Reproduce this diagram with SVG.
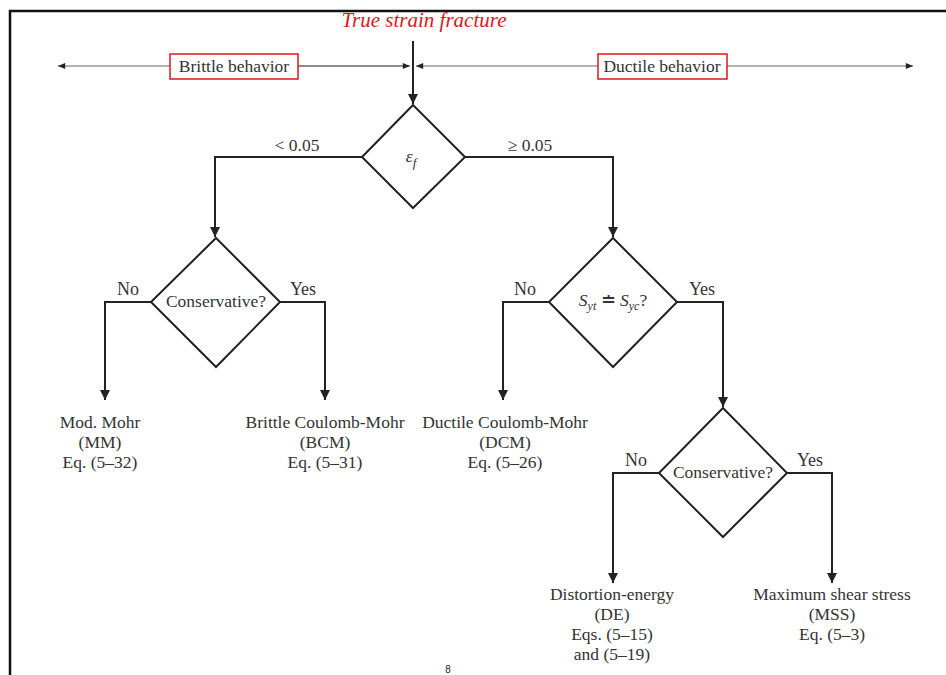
<svg xmlns="http://www.w3.org/2000/svg" width="946" height="675" viewBox="0 0 946 675">
<defs>
<style>
.t{font-family:"Liberation Serif","Times New Roman",serif;font-size:17.5px;fill:#333;text-anchor:middle}
.lb{font-size:18px}
.i{font-style:italic}
.ln{fill:none;stroke:#222;stroke-width:2}
.thin{fill:none;stroke:#666;stroke-width:1.2}
.dia{fill:#fff;stroke:#222;stroke-width:2}
.box{fill:#fff;stroke:#e0161b;stroke-width:1.5}
</style>
<marker id="ah" viewBox="0 0 10 10" refX="10" refY="5" markerWidth="5" markerHeight="5" orient="auto" markerUnits="strokeWidth">
<path d="M0,0 L10,5 L0,10 z" fill="#222"/>
</marker>
<marker id="ahs" viewBox="0 0 10 10" refX="10" refY="5" markerWidth="7" markerHeight="6" orient="auto" markerUnits="strokeWidth">
<path d="M0,1 L10,5 L0,9 z" fill="#222"/>
</marker>
</defs>
<rect width="946" height="675" fill="#fff"/>
<path d="M10,675 V11 H946" fill="none" stroke="#111" stroke-width="2.5"/>

<g id="connectors">
<line class="thin" x1="405" y1="66" x2="58" y2="66" marker-end="url(#ahs)"/>
<line class="thin" x1="170" y1="66" x2="410" y2="66" marker-end="url(#ahs)"/>
<line class="thin" x1="600" y1="66" x2="416" y2="66" marker-end="url(#ahs)"/>
<line class="thin" x1="727" y1="66" x2="913" y2="66" marker-end="url(#ahs)"/>
<line class="ln" x1="413" y1="41" x2="413" y2="104" marker-end="url(#ah)"/>
<path class="ln" d="M362,157 H215 V237" marker-end="url(#ah)"/>
<path class="ln" d="M465,157 H613 V237" marker-end="url(#ah)"/>
<path class="ln" d="M151,302 H105 V400" marker-end="url(#ah)"/>
<path class="ln" d="M280,302 H325 V400" marker-end="url(#ah)"/>
<path class="ln" d="M549,302 H503 V400" marker-end="url(#ah)"/>
<path class="ln" d="M677,302 H723 V407" marker-end="url(#ah)"/>
<path class="ln" d="M659,473 H613 V583" marker-end="url(#ah)"/>
<path class="ln" d="M787,473 H832 V583" marker-end="url(#ah)"/>
<text class="t" x="297" y="151">&lt; 0.05</text>
<text class="t" x="530" y="151">≥ 0.05</text>
<text class="t lb" x="128" y="295">No</text>
<text class="t lb" x="303" y="295">Yes</text>
<text class="t lb" x="525" y="295">No</text>
<text class="t lb" x="702" y="295">Yes</text>
<text class="t lb" x="636" y="466">No</text>
<text class="t lb" x="810" y="466">Yes</text>
</g>

<g id="title">
<text x="424" y="27" font-family="'Liberation Serif',serif" font-style="italic" font-size="21" fill="#e0161b" text-anchor="middle">True strain fracture</text>
</g>
<g id="brittle">
<rect class="box" x="170" y="54" width="128" height="25"/>
<text class="t" x="234" y="72" font-size="17">Brittle behavior</text>
</g>
<g id="ductile">
<rect class="box" x="598" y="54" width="129" height="25"/>
<text class="t" x="662" y="72" font-size="17">Ductile behavior</text>
</g>

<g id="d-ef">
<polygon class="dia" points="413,105 465,157 413,208 362,157"/>
<text class="t i" x="411" y="162" font-size="20">ε<tspan font-size="13" dy="5">f</tspan></text>
</g>
<g id="d-cons-left">
<polygon class="dia" points="216,238 280,302 216,367 151,302"/>
<text class="t" x="216" y="307" font-size="16.5">Conservative?</text>
</g>
<g id="d-syt">
<polygon class="dia" points="613,238 677,302 613,367 549,302"/>
<text class="t" x="613" y="306" font-size="18"><tspan class="i">S</tspan><tspan class="i" font-size="12" dy="4">yt</tspan><tspan dy="-4"> ≐ </tspan><tspan class="i">S</tspan><tspan class="i" font-size="12" dy="4">yc</tspan><tspan dy="-4">?</tspan></text>
</g>
<g id="d-cons-right">
<polygon class="dia" points="723,408 787,473 723,537 659,473"/>
<text class="t" x="723" y="478" font-size="16.5">Conservative?</text>
</g>

<g id="mm">
<text class="t" x="100" y="428">Mod. Mohr</text>
<text class="t" x="100" y="448">(MM)</text>
<text class="t" x="100" y="468">Eq. (5–32)</text>
</g>
<g id="bcm">
<text class="t" x="325" y="428">Brittle Coulomb-Mohr</text>
<text class="t" x="325" y="448">(BCM)</text>
<text class="t" x="325" y="468">Eq. (5–31)</text>
</g>
<g id="dcm">
<text class="t" x="505" y="428">Ductile Coulomb-Mohr</text>
<text class="t" x="505" y="448">(DCM)</text>
<text class="t" x="505" y="468">Eq. (5–26)</text>
</g>
<g id="de">
<text class="t" x="612" y="600">Distortion-energy</text>
<text class="t" x="612" y="620">(DE)</text>
<text class="t" x="612" y="640">Eqs. (5–15)</text>
<text class="t" x="612" y="660">and (5–19)</text>
</g>
<g id="mss">
<text class="t" x="832" y="600">Maximum shear stress</text>
<text class="t" x="832" y="620">(MSS)</text>
<text class="t" x="832" y="640">Eq. (5–3)</text>
</g>
<text x="448" y="673" font-family="'Liberation Sans',sans-serif" font-size="10" fill="#222" text-anchor="middle">8</text>
</svg>
